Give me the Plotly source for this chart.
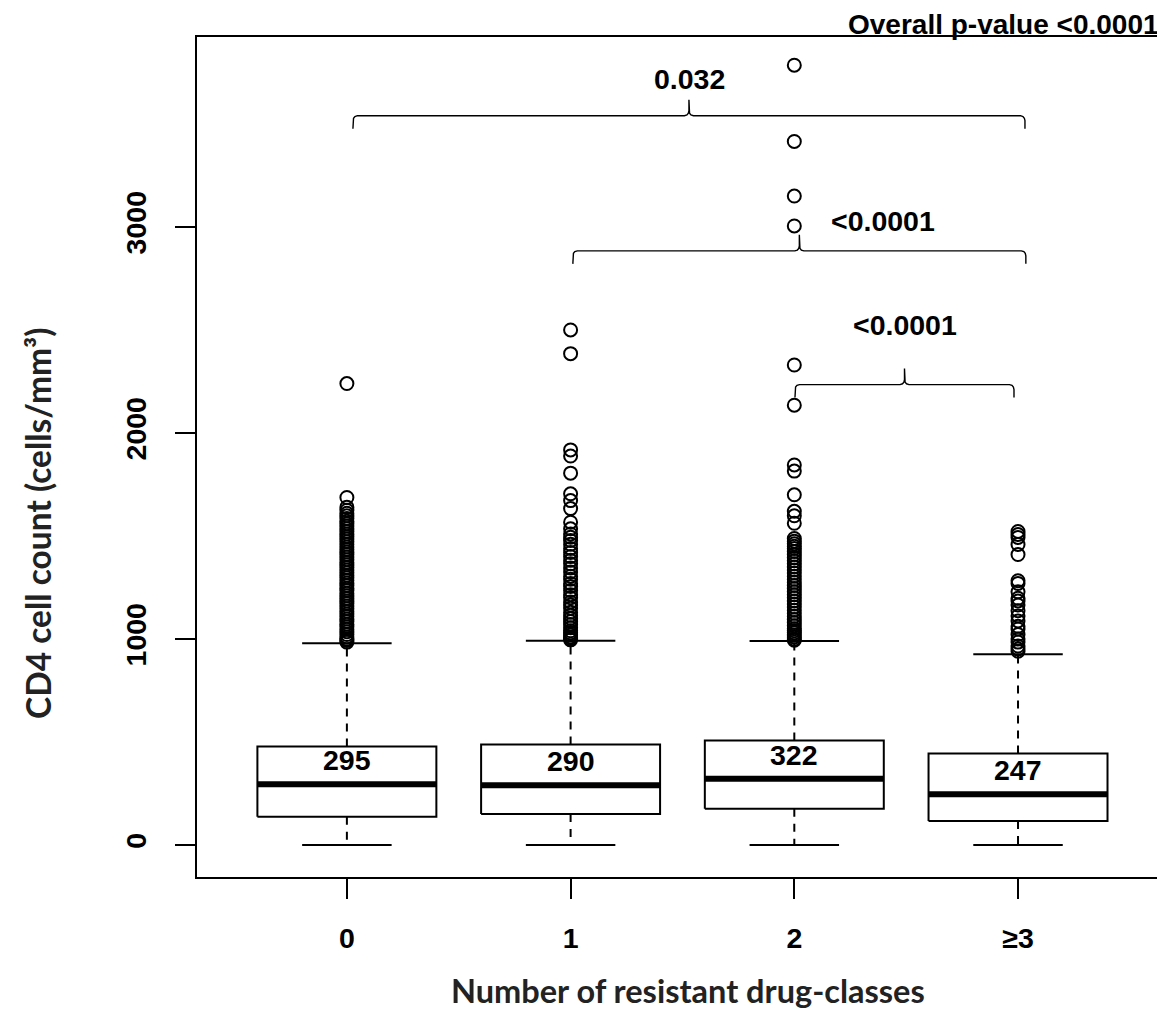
import plotly.graph_objects as go

# ---------------- data ----------------
categories = ["0", "1", "2", "≥3"]
q1_values = [137, 151, 176, 117]
median_values = [295, 290, 322, 247]
q3_values = [478, 488, 507, 444]
lower_whisker = [0, 0, 0, 0]
upper_whisker = [980, 992, 990, 926]

outliers_0 = [2240, 1687, 1640, 1625, 1610, 1598, 1585, 1572, 1560, 1548, 1535, 1522,
              1510, 1497, 1485, 1472, 1460, 1447, 1435, 1422, 1410, 1398, 1385, 1372,
              1360, 1347, 1335, 1322, 1310, 1297, 1285, 1272, 1260, 1247, 1235, 1222,
              1210, 1197, 1185, 1172, 1160, 1147, 1135, 1122, 1110, 1097, 1085, 1072,
              1060, 1047, 1035, 1022, 1010, 1000, 993, 985]
outliers_1 = [2500, 2385, 1918, 1888, 1805, 1705, 1672, 1633, 1567, 1535, 1510, 1494,
              1478, 1460, 1440, 1420, 1400, 1382, 1365, 1345, 1325, 1305, 1290, 1270,
              1255, 1235, 1215, 1200, 1180, 1165, 1150, 1130, 1115, 1100, 1085, 1070,
              1055, 1040, 1030, 1020, 1010, 1002, 996]
outliers_2 = [3785, 3415, 3150, 3005, 2330, 2135, 1845, 1815, 1700, 1620, 1598, 1562,
              1488, 1475, 1462, 1450, 1440, 1425, 1410, 1395, 1380, 1365, 1350, 1335,
              1320, 1305, 1290, 1275, 1260, 1245, 1230, 1215, 1200, 1185, 1170, 1155,
              1140, 1125, 1110, 1095, 1080, 1065, 1050, 1040, 1030, 1020, 1010, 1000, 994]
outliers_3 = [1522, 1507, 1493, 1459, 1410, 1283, 1270, 1229, 1198, 1185, 1165, 1137,
              1112, 1088, 1062, 1049, 1022, 1000, 985, 966, 952, 941]
outlier_groups = [outliers_0, outliers_1, outliers_2, outliers_3]

# pairwise comparisons: (from group, to group, bracket level, p-value label)
comp_from = [1, 2, 3]
comp_to = [4, 4, 4]
comp_level = [3540, 2884, 2235]
comp_label = ["0.032", "<0.0001", "<0.0001"]
overall_label = "Overall p-value <0.0001"

y_ticks = [0, 1000, 2000, 3000]

# ---------------- layout constants ----------------
PAGE_OFF = 8                      # default body margin of the html page
PLOT_L, PLOT_R, PLOT_T, PLOT_B = 197, 1165, 37, 877   # plot area in page pixels
W, H = 1165 - PAGE_OFF, 1015 - PAGE_OFF
M_L = PLOT_L - PAGE_OFF
M_T = PLOT_T - PAGE_OFF
M_R = W + PAGE_OFF - PLOT_R
M_B = H + PAGE_OFF - PLOT_B
X_RANGE = [0.33, 4.657]
Y_RANGE = [-155, 3922]
PLOT_W = PLOT_R - PLOT_L
PLOT_H = PLOT_B - PLOT_T
PX_X = PLOT_W / (X_RANGE[1] - X_RANGE[0])   # px per x unit
PX_Y = PLOT_H / (Y_RANGE[1] - Y_RANGE[0])   # px per y unit
BOX_W = 0.8
CAP_W = 0.4


def paper_x(px):
    return (px - PLOT_L) / PLOT_W


def paper_y(py):
    return (PLOT_B - py) / PLOT_H


# bracket end offsets (x units) and label placement (x unit, px above line)
br_x0_off = [0.027, 0.010, 0.003]
br_x1_off = [0.031, 0.035, -0.018]
lab_x = [2.533, 3.396, 3.494]
lab_dy_px = [37, 30, 60]

RFONT = "Liberation Sans, Arial, Helvetica, sans-serif"
TFONT = "Lato, Carlito, Calibri, sans-serif"

fig = go.Figure()

positions = [i + 1 for i in range(len(categories))]

# whiskers (dashed) and caps
for i, xp in enumerate(positions):
    fig.add_trace(go.Scatter(
        x=[xp, xp, None, xp, xp],
        y=[q3_values[i], upper_whisker[i], None, q1_values[i], lower_whisker[i]],
        mode="lines", line=dict(color="black", width=2, dash="8px,7px"),
        hoverinfo="skip", showlegend=False))
    fig.add_trace(go.Scatter(
        x=[xp - CAP_W / 2, xp + CAP_W / 2, None, xp - CAP_W / 2, xp + CAP_W / 2],
        y=[upper_whisker[i], upper_whisker[i], None, lower_whisker[i], lower_whisker[i]],
        mode="lines", line=dict(color="black", width=2),
        hoverinfo="skip", showlegend=False))

# boxes and medians
for i, xp in enumerate(positions):
    fig.add_trace(go.Scatter(
        x=[xp - BOX_W / 2, xp + BOX_W / 2, xp + BOX_W / 2, xp - BOX_W / 2, xp - BOX_W / 2],
        y=[q1_values[i], q1_values[i], q3_values[i], q3_values[i], q1_values[i]],
        mode="lines", fill="toself", fillcolor="white",
        line=dict(color="black", width=2), hoverinfo="skip", showlegend=False))
    fig.add_trace(go.Scatter(
        x=[xp - BOX_W / 2, xp + BOX_W / 2], y=[median_values[i], median_values[i]],
        mode="lines", line=dict(color="black", width=6),
        hoverinfo="skip", showlegend=False))
    fig.add_annotation(x=xp, y=median_values[i], text=str(median_values[i]),
                       showarrow=False, yshift=24, yanchor="middle",
                       font=dict(family=RFONT, size=28.5, color="black", weight="bold"))

# outliers
for i, xp in enumerate(positions):
    fig.add_trace(go.Scatter(
        x=[xp] * len(outlier_groups[i]), y=outlier_groups[i], mode="markers",
        marker=dict(symbol="circle-open", size=13, color="black", line=dict(width=2)),
        hoverinfo="y", showlegend=False))


# curly brackets
def brace(x0, x1, yl):
    xm = (x0 + x1) / 2
    dx = lambda p: p / PX_X
    dy = lambda p: p / PX_Y
    pts = [(x0, -13), (x0, -5), (x0 + dx(0.6), -2.5), (x0 + dx(2), -0.8), (x0 + dx(4.5), 0),
           (xm - dx(4.5), 0), (xm - dx(2), 0.8), (xm - dx(0.6), 2.5), (xm, 5), (xm, 16),
           (xm, 5), (xm + dx(0.6), 2.5), (xm + dx(2), 0.8), (xm + dx(4.5), 0),
           (x1 - dx(4.5), 0), (x1 - dx(2), -0.8), (x1 - dx(0.6), -2.5), (x1, -5), (x1, -13)]
    return [p[0] for p in pts], [yl + dy(p[1]) for p in pts]


for k in range(len(comp_label)):
    x0 = comp_from[k] + br_x0_off[k]
    x1 = comp_to[k] + br_x1_off[k]
    bx, byy = brace(x0, x1, comp_level[k])
    fig.add_trace(go.Scatter(x=bx, y=byy, mode="lines",
                             line=dict(color="black", width=1.4),
                             hoverinfo="skip", showlegend=False))
    fig.add_annotation(x=lab_x[k], y=comp_level[k], text=comp_label[k], showarrow=False,
                       yshift=lab_dy_px[k], yanchor="middle",
                       font=dict(family=RFONT, size=28.5, color="black", weight="bold"))

# overall p-value
fig.add_annotation(xref="paper", yref="paper", x=paper_x(1161), y=paper_y(24),
                   text=overall_label, showarrow=False, xanchor="right", yanchor="middle",
                   font=dict(family=RFONT, size=28, color="black", weight="bold"))

# axis titles
fig.add_annotation(xref="paper", yref="paper", x=paper_x(688), y=paper_y(990),
                   text="Number of resistant drug-classes", showarrow=False,
                   xanchor="center", yanchor="middle",
                   font=dict(family=TFONT, size=32.5, color="#222222", weight="bold"))
fig.add_annotation(xref="paper", yref="paper", x=paper_x(38), y=paper_y(524),
                   text="CD4 cell count (cells/mm³)", showarrow=False, textangle=-90,
                   xanchor="center", yanchor="middle",
                   font=dict(family=TFONT, size=33.5, color="#222222", weight="bold"))

fig.update_layout(
    width=W, height=H,
    margin=dict(l=M_L, r=M_R, t=M_T, b=M_B, pad=0),
    paper_bgcolor="white", plot_bgcolor="white",
    showlegend=False,
    xaxis=dict(range=X_RANGE, tickvals=positions, ticktext=categories,
               ticks="outside", ticklen=20, tickwidth=2, tickcolor="black",
               showline=True, linewidth=2, linecolor="black", mirror=True,
               showgrid=False, zeroline=False, ticklabelstandoff=15,
               tickfont=dict(family=RFONT, size=28.5, color="black", weight="bold")),
    yaxis=dict(range=Y_RANGE, tickvals=y_ticks, ticktext=[str(v) for v in y_ticks],
               ticks="outside", ticklen=20, tickwidth=2, tickcolor="black",
               showline=True, linewidth=2, linecolor="black", mirror=False,
               showgrid=False, zeroline=False, tickangle=-90, ticklabelstandoff=18,
               tickfont=dict(family=RFONT, size=28.5, color="black", weight="bold")),
)

fig.write_html("out.html")
